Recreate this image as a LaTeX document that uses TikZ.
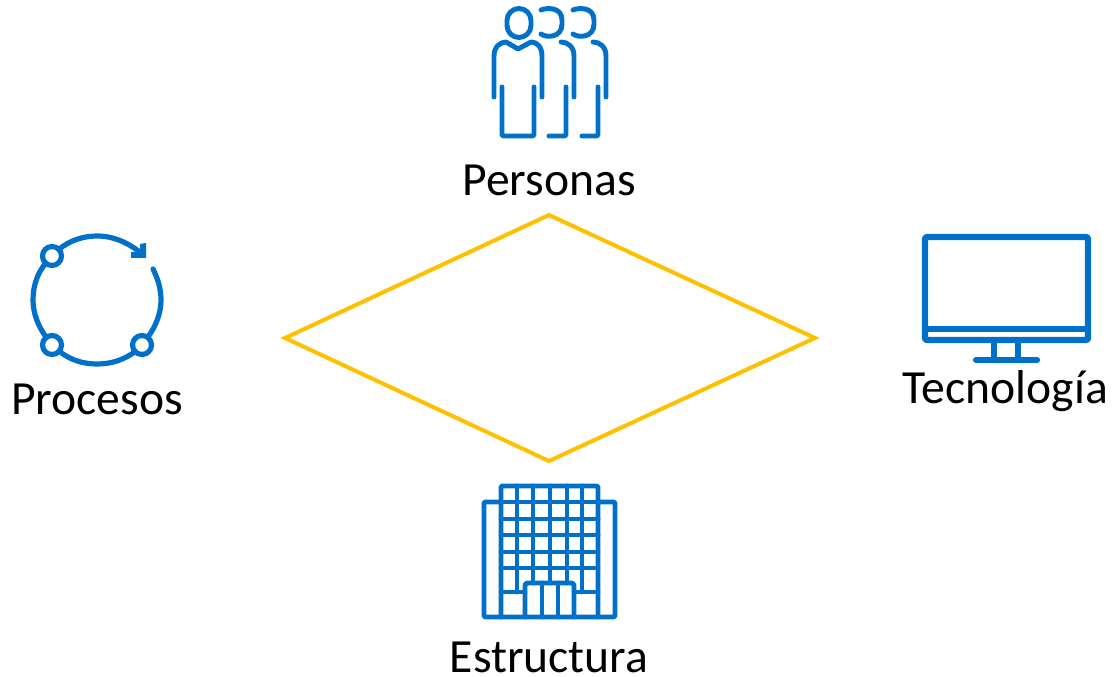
\documentclass[tikz,border=0pt]{standalone}
\usepackage{fontspec}
\setmainfont{Carlito}
\definecolor{iconblue}{HTML}{0070C8}
\definecolor{gold}{HTML}{FFC000}
\tikzset{
  icon/.style={draw=iconblue,line width=3.9pt,line cap=round,line join=round},
  iconthin/.style={icon,line width=3.7pt},
  iconmon/.style={icon,line width=4.6pt},
  lbl/.style={font=\fontsize{35.7}{36}\selectfont,text=black,anchor=base,inner sep=0pt},
  rhomb/.style={draw=gold,line width=3pt,line join=miter}
}
\begin{document}
\begin{tikzpicture}[x=0.75pt,y=-0.75pt]
\useasboundingbox (0,0) rectangle (1113,677);
% diamond
\draw[rhomb] (549,215) -- (815,338) -- (549,461) -- (285,338) -- cycle;
% people
\draw[iconthin,rounded corners=9pt] (507,8.5) rectangle (531,37.5);
\draw[iconthin] (494,97) -- (494,56) .. controls (494,47) and (500,42) .. (506,42) -- (518,49) -- (531,42) .. controls (537,42) and (542,47) .. (542,56) -- (542,97);
\draw[iconthin,rounded corners=1pt] (502,87) -- (502,136) -- (534,136) -- (534,87);
\draw[iconthin] (541,10) .. controls (545,8) and (562,6) .. (562,20) -- (562,24) .. controls (562,38) and (546,38) .. (541,34);
\draw[iconthin] (561,42) .. controls (568,42) and (574,47) .. (574,56) -- (574,97);
\draw[iconthin,rounded corners=1pt] (566,87) -- (566,136) -- (549,136);
\draw[iconthin] (573,10) .. controls (577,8) and (594,6) .. (594,20) -- (594,24) .. controls (594,38) and (578,38) .. (573,34);
\draw[iconthin] (593,42) .. controls (600,42) and (606,47) .. (606,56) -- (606,97);
\draw[iconthin,rounded corners=1pt] (598,87) -- (598,136) -- (582,136);
% building
\draw[iconthin,rounded corners=1pt] (501,502) -- (484,502) -- (484,617) -- (615,617) -- (615,502) -- (598,502);
\draw[iconthin,rounded corners=1pt] (501,617) -- (501,486) -- (598,486) -- (598,617);
\foreach \yy in {502,519,535,552,568} \draw[iconthin] (501,\yy) -- (598,\yy);
\foreach \xx in {517,582} \draw[iconthin] (\xx,486) -- (\xx,592);
\foreach \xx in {533,550,567} \draw[iconthin] (\xx,486) -- (\xx,583);
\draw[iconthin] (501,592) -- (525,592);
\draw[iconthin] (574,592) -- (598,592);
\draw[iconthin,rounded corners=2pt] (525,617) -- (525,583) -- (574,583) -- (574,617);
\draw[iconthin] (542,583) -- (542,617);
\draw[iconthin] (558,583) -- (558,617);
% process
\draw[icon] (58,250) .. controls (70,240) and (84,236) .. (97,236) .. controls (113,236) and (127,242) .. (141,253);
\draw[icon] (153,269) .. controls (158,279) and (161,289) .. (161,300) .. controls (161,313) and (156,326) .. (148,337);
\draw[icon] (136,351) .. controls (124,360) and (111,364) .. (97,364) .. controls (83,364) and (70,360) .. (59,351);
\draw[icon] (46,337) .. controls (38,326) and (33,313) .. (33,300) .. controls (33,285) and (38,272) .. (46,263);
\fill[iconblue] (140,244) -- (146,243) -- (146,258) -- (131,258) -- (131,252) -- (140,252) -- cycle;
\draw[icon,fill=white] (52,256) circle[radius=9.5];
\draw[icon,fill=white] (52,345) circle[radius=9.5];
\draw[icon,fill=white] (142,345) circle[radius=9.5];
% monitor
\draw[iconmon,rounded corners=1pt] (925,237) rectangle (1088,340);
\draw[iconmon,line cap=butt] (925,329) -- (1088,329);
\draw[iconmon,line cap=butt] (994,340) -- (994,360);
\draw[iconmon,line cap=butt] (1018,340) -- (1018,360);
\draw[iconmon] (976,360) -- (1037,360);
% labels
\node[lbl] (personas) at (549,195.5) {Personas};
\node[lbl] (procesos) at (97,414) {Procesos};
\node[lbl] (tecnologia) at (1005.5,403) {Tecnología};
\node[lbl] (estructura) at (549,672.5) {Estructura};
\end{tikzpicture}
\end{document}
